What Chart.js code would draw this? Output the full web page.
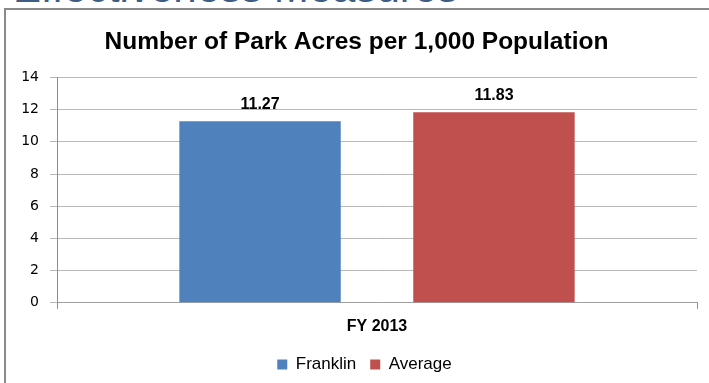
<!DOCTYPE html>
<html>
<head>
<meta charset="utf-8">
<script src="https://cdn.jsdelivr.net/npm/chart.js@4/dist/chart.umd.min.js"></script>
<style>
  html, body { margin: 0; padding: 0; background: #fff; }
  body { width: 709px; height: 383px; position: relative; overflow: hidden; }
  #heading {
    position: absolute; left: 13px; top: -33px;
    font-family: "Liberation Sans", Arial, sans-serif; font-size: 42px; line-height: 42px;
    color: #3d5d85; white-space: nowrap;
  }
  #frame {
    position: absolute; left: 4px; top: 8px; width: 760px; height: 420px;
    border-left: 2px solid #8a8a8a; border-top: 2px solid #8a8a8a; pointer-events: none;
  }
  #wrap { position: absolute; left: 0; top: 0; width: 709px; height: 383px; }
</style>
</head>
<body>
<div id="heading">Effectiveness Measures</div>
<div id="wrap"><canvas id="c" width="709" height="383"></canvas></div>
<div id="frame"></div>
<script>
const categories = ['FY 2013'];
const seriesNames = ['Franklin', 'Average'];
const franklinValues = [11.27];
const averageValues = [11.83];
const seriesColors = ['#4F81BD', '#C0504D'];
const yTicks = [0, 2, 4, 6, 8, 10, 12, 14];
const chartTitle = 'Number of Park Acres per 1,000 Population';

const valueLabels = {
  id: 'valueLabels',
  afterLayout(chart) {
    if (chart.legend) { chart.legend.left += 8; chart.legend.right += 8; }
  },
  afterDatasetsDraw(chart) {
    const ctx = chart.ctx;
    ctx.save();
    ctx.font = 'bold 16px "Liberation Sans", Arial, sans-serif';
    ctx.fillStyle = '#000';
    ctx.textAlign = 'center';
    ctx.textBaseline = 'alphabetic';
    chart.data.datasets.forEach((ds, i) => {
      const meta = chart.getDatasetMeta(i);
      meta.data.forEach((el, j) => {
        ctx.fillText(ds.data[j].toFixed(2), el.x, el.y - 12);
      });
    });
    ctx.restore();
  }
};

new Chart(document.getElementById('c'), {
  type: 'bar',
  data: {
    labels: categories,
    datasets: [
      { label: seriesNames[0], data: franklinValues, backgroundColor: seriesColors[0] },
      { label: seriesNames[1], data: averageValues, backgroundColor: seriesColors[1] }
    ]
  },
  options: {
    responsive: false,
    animation: false,
    devicePixelRatio: 1,
    layout: { padding: { left: 16, right: 12, top: 0, bottom: 0 } },
    datasets: { bar: { categoryPercentage: 0.731, barPercentage: 0.69 } },
    plugins: {
      title: {
        display: true, text: chartTitle, color: '#000',
        font: { family: '"Liberation Sans", Arial, sans-serif', size: 24.5, weight: 'bold' },
        padding: { top: 28, bottom: 20 }
      },
      legend: {
        display: true, position: 'bottom',
        labels: {
          boxWidth: 10, boxHeight: 10, padding: 14, color: '#000',
          font: { family: '"Liberation Sans", Arial, sans-serif', size: 17 }
        }
      },
      tooltip: { enabled: false }
    },
    scales: {
      x: {
        grid: { display: true, drawOnChartArea: false, drawTicks: true, tickLength: 6, color: '#8c8c8c' },
        border: { display: true, color: '#a0a0a0' },
        ticks: {
          color: '#000', padding: 8,
          font: { family: '"Liberation Sans", Arial, sans-serif', size: 16, weight: 'bold' }
        },
        afterFit(scale) { scale.height -= 2; }
      },
      y: {
        min: 0, max: 14,
        afterBuildTicks(scale) { scale.ticks = yTicks.map(v => ({ value: v })); },
        grid: { color: '#b8b8b8', tickLength: 7, drawTicks: true },
        border: { display: true, color: '#8c8c8c' },
        ticks: {
          color: '#000', padding: 11,
          font: { family: '"DejaVu Sans", sans-serif', size: 14 }
        },
        afterFit(scale) { scale.width = 41; }
      }
    }
  },
  plugins: [valueLabels]
});
</script>
</body>
</html>
